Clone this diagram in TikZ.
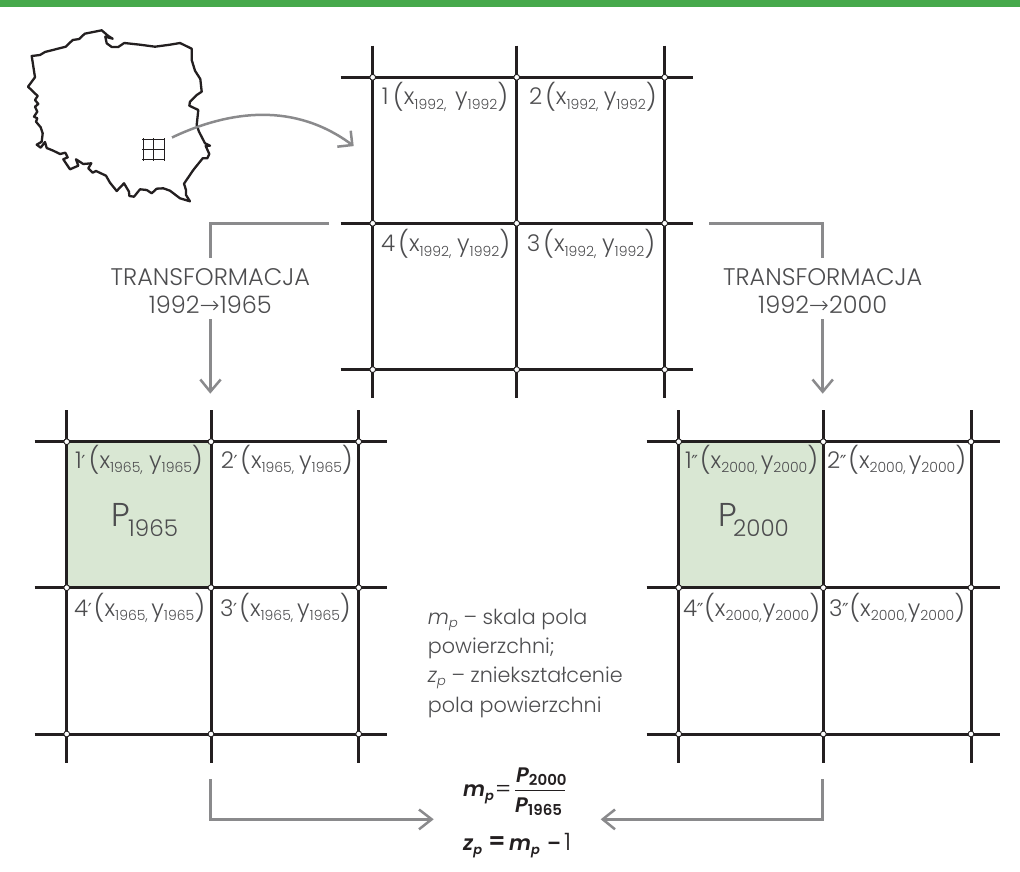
\documentclass[tikz,border=0pt]{standalone}
\usepackage{fontspec}
\setmainfont{Poppins Light}
\newfontfamily\boldit{Poppins SemiBold}[ItalicFont={Poppins SemiBold Italic}]
\newfontfamily\djv{DejaVu Sans}
\newfontfamily\djl{DejaVu Sans ExtraLight}
\newcommand{\prm}{\kern-.5pt{\djv\fontsize{18}{18}\selectfont ′}}
\newcommand{\dprm}{\kern-.5pt{\djv\fontsize{18}{18}\selectfont ″}}
\definecolor{txt}{HTML}{4D4D4F}
\definecolor{arr}{HTML}{8A8A8C}
\definecolor{grn}{HTML}{46A94B}
\definecolor{fillg}{HTML}{D9E7D3}
\definecolor{ink}{HTML}{231F20}
\tikzset{
 gl/.style={draw=ink,line width=3pt},
 conn/.style={draw=arr,line width=2.5pt},
 lab/.style={text=txt,font=\fontsize{23}{25}\selectfont,inner sep=0pt,anchor=base west},
 frm/.style={text=ink,inner sep=0pt,anchor=base west,font=\boldit\itshape\fontsize{21}{24}\selectfont},
}
\begin{document}
\begin{tikzpicture}[x=1pt,y=-1pt]
\useasboundingbox (0,0) rectangle (1020,872);
\fill[grn] (0,0) rectangle (1020,7.3);
\fill[fillg] (67,442) rectangle (211,588);
\fill[fillg] (679,442) rectangle (823,588);
\draw[gl,line width=2.3pt,line join=round] plot coordinates {(31.7,56)(40,55)(45,52)(65.7,46.7)(72.7,40)(79.3,39)(84.7,33.7)(101.7,30.3)(108.3,36)(112.7,38.7)(105.3,36.7)(106.7,43.3)(111.7,47)(118.3,47)(124.3,43)(140,44.7)(155,46.7)(170,44.7)(180,43)(191.7,48.7)(191.7,60)(195,70.7)(200.3,79)(201.7,91.7)(196.7,95)(190,101.7)(189.3,105.7)(198.3,110)(196.7,125)(199,131.7)(205,143.3)(210,145.7)(205.7,146)(209.3,154)(207.3,158.3)(202.7,158.3)(193.3,170)(184,183.7)(186,190)(186,195)(190,201.3)(180,198.3)(170,190.7)(163.3,188.3)(156.7,188.7)(151.7,193.3)(146.7,190)(140,189.3)(134,196.7)(129.3,196)(129,191.7)(124,183.3)(116.7,191)(110,182.7)(106,175.7)(96,171)(92.7,172.7)(88.3,168.3)(91.3,163.3)(83.3,164)(76,159.3)(78.3,165.7)(70,169.3)(63.3,159.3)(67.7,157.3)(65.3,152.7)(60,154)(53.3,150.7)(46.7,148)(45,142)(40.7,147.7)(36.7,144.7)(41.7,141.7)(42.7,133.3)(40.7,127.3)(36,121.7)(37.3,118.3)(34,116.7)(37.3,111.7)(35,106.7)(38.3,104)(35,100)(37.7,96)(28,86.7)(35,77.3)(31.7,56)} -- cycle;
% small grid
\foreach \x in {143.3,153.3,164}{\draw[draw=ink,line width=1pt] (\x,138.5) -- (\x,161);}
\foreach \y in {140,150,160}{\draw[draw=ink,line width=1pt] (142,\y) -- (165,\y);}
% grids
\newcommand{\gridd}[4]{%
 \foreach \x in {#1,#2,#3}{\draw[gl] (\x,#4-31.7) -- (\x,#4+321);}
 \foreach \yy in {0,146,292.3}{\draw[gl] (#1-32.2,#4+\yy) -- (#3+28.6,#4+\yy);}
 \foreach \x in {#1,#2,#3}{\foreach \yy in {0,146,292.3}{\fill[white,draw=ink,line width=.9pt] (\x,#4+\yy) circle (2.9pt);}}
}
\gridd{372.7}{516.7}{664.7}{77.3}
\gridd{66.7}{211}{358.7}{441.7}
\gridd{678.7}{823.3}{971}{441.7}
% connectors
\coordinate (s0) at (172,137.5);
\coordinate (e0) at (352.3,145);
\draw[conn] (s0) .. controls (230,110) and (295,102) .. (e0);
\draw[conn,line join=miter] (350.7,130.7) -- (e0) -- (337.3,146.7);
\coordinate (a1) at (329,223.3); \coordinate (a2) at (210.3,223.3); \coordinate (a3) at (210.3,257.7);
\draw[conn] (a1) -- (a2) -- (a3);
\coordinate (a4) at (210.3,319.3); \coordinate (a5) at (210.3,391.7);
\draw[conn] (a4) -- (a5); \draw[conn] (200.3,379.5) -- (a5) -- (220.7,379.5);
\coordinate (b1) at (709,223.3); \coordinate (b2) at (822.7,223.3); \coordinate (b3) at (822.7,257.7);
\draw[conn] (b1) -- (b2) -- (b3);
\coordinate (b4) at (822.7,319.3); \coordinate (b5) at (822.7,391.7);
\draw[conn] (b4) -- (b5); \draw[conn] (812.5,379.5) -- (b5) -- (832.9,379.5);
\coordinate (c1) at (210.3,779); \coordinate (c2) at (210.3,819.3); \coordinate (c3) at (431.7,819.3);
\draw[conn] (c1) -- (c2) -- (c3); \draw[conn] (419,809.5) -- (c3) -- (419,829.3);
\coordinate (d1) at (822.7,779); \coordinate (d2) at (822.7,819.3); \coordinate (d3) at (602.7,819.3);
\draw[conn] (d1) -- (d2) -- (d3); \draw[conn] (615,809.5) -- (d3) -- (615,829.3);
% labels: x, baseline, number, year, name, width
\newcommand{\sbs}[1]{\raisebox{-4.5pt}{\fontsize{14}{14}\selectfont #1}}
\newcommand{\lb}[6]{\node[lab] (#5) at (#1,#2) {\makebox[#6pt][s]{#3\hfil{\fontsize{26}{26}\selectfont\raisebox{-1.5pt}{(}}x\sbs{#4,}\hfil\hfil y\sbs{#4}{\fontsize{26}{26}\selectfont\raisebox{-1.5pt}{)}}}};}
\lb{381.7}{105}{1}{1992}{t1}{126.3}
\lb{529}{105}{2}{1992}{t2}{127.7}
\lb{381}{251.7}{4}{1992}{t4}{129}
\lb{526.7}{251.7}{3}{1992}{t3}{128.3}
\lb{75}{468}{1\prm}{1965}{l1}{127.7}
\lb{220.7}{468}{2\prm}{1965}{l2}{132}
\lb{74}{616}{4\prm}{1965}{l4}{131}
\lb{220}{616}{3\prm}{1965}{l3}{130.7}
\lb{685}{468}{1\dprm}{2000}{r1}{133}
\lb{827}{468}{2\dprm}{2000}{r2}{139}
\lb{683}{616}{4\dprm}{2000}{r4}{137}
\lb{829}{616}{3\dprm}{2000}{r3}{136}
\node[lab,font=\fontsize{33}{33}\selectfont] (p1) at (111,526.7) {P};
\node[lab,font=\fontsize{23}{23}\selectfont] (ps1) at (128,536.7) {1965};
\node[lab,font=\fontsize{33}{33}\selectfont] (p2) at (718,526.7) {P};
\node[lab,font=\fontsize{23}{23}\selectfont] (ps2) at (733,536.7) {2000};
\node[text=txt,inner sep=0pt,anchor=base,font=\fontsize{24}{24}\selectfont] (tr1) at (210.3,285) {TRANSFORMACJA};
\node[text=txt,inner sep=0pt,anchor=base,font=\fontsize{24}{24}\selectfont] (tr1b) at (210.3,313) {1992{\djl→}1965};
\node[text=txt,inner sep=0pt,anchor=base,font=\fontsize{24}{24}\selectfont] (tr2) at (822.7,285) {TRANSFORMACJA};
\node[text=txt,inner sep=0pt,anchor=base,font=\fontsize{24}{24}\selectfont] (tr2b) at (822.7,313) {1992{\djl→}2000};
\tikzset{dsc/.style={text=txt,inner sep=0pt,anchor=base west,font=\fontsize{20.7}{24}\selectfont}}
\node[dsc] (d1t) at (427.7,624) {\textit{m}\raisebox{-3pt}{\fontsize{13}{13}\selectfont\textit{p}} – skala pola};
\node[dsc] (d2t) at (427.7,653) {powierzchni;};
\node[dsc] (d3t) at (427.7,682) {\textit{z}\raisebox{-3pt}{\fontsize{13}{13}\selectfont\textit{p}} – zniekształcenie};
\node[dsc] (d4t) at (427.7,712) {pola powierzchni};
\node[frm] (f1) at (463,796.7) {m\raisebox{-4pt}{\fontsize{13}{13}\selectfont p}};
\node[frm,font=\fontsize{24}{24}\selectfont] (eq1) at (495,797) {=};
\node[frm] (n1) at (516,782) {P\raisebox{-3pt}{\boldit\upshape\fontsize{15}{15}\selectfont 2000}};
\node[frm] (n2) at (515,812.7) {P\raisebox{-3pt}{\boldit\upshape\fontsize{15}{15}\selectfont 1965}};
\draw[ink,line width=1pt] (515,790) -- (565,790);
\node[frm] (f2) at (463,850) {z\raisebox{-4pt}{\fontsize{13}{13}\selectfont p}};
\node[frm,font=\boldit\fontsize{24}{24}\selectfont] (eq2) at (488,849) {=};
\node[frm] (f3) at (509,850) {m\raisebox{-4pt}{\fontsize{13}{13}\selectfont p}};
\node[frm,font=\boldit\fontsize{20}{20}\selectfont] (f4) at (547,850) {–};
\node[frm,font=\fontsize{24}{24}\selectfont] (f5) at (564,850) {1};
\end{tikzpicture}
\end{document}
